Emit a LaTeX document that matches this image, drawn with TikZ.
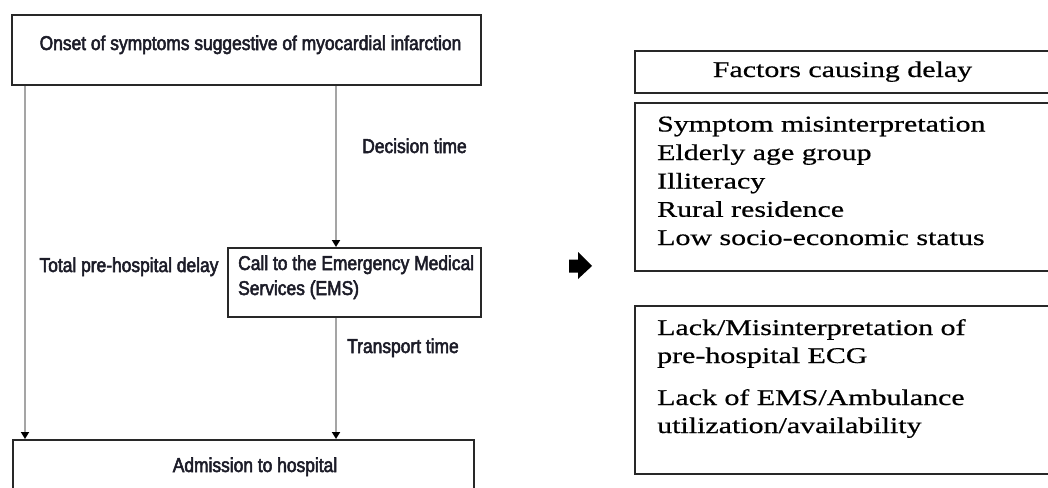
\documentclass[tikz,border=0pt]{standalone}
\usepackage{fontspec}
\usetikzlibrary{arrows.meta}
\newfontfamily\lsans[FakeStretch=0.87,FakeBold=2.6]{Liberation Sans}
\newfontfamily\rserif[FakeStretch=1.33,FakeBold=0.6]{Liberation Serif}
\definecolor{linegray}{RGB}{165,165,165}
\definecolor{boxline}{RGB}{40,40,40}
\definecolor{inkc}{RGB}{28,28,40}
\begin{document}
\begin{tikzpicture}[x=1pt,y=-1pt,
  box/.style={draw=boxline, line width=2pt, inner sep=0pt, anchor=north west},
  lt/.style={font=\lsans\fontsize{20}{24}\selectfont, text=inkc, inner sep=0pt, anchor=base},
  ltl/.style={lt, anchor=base west},
  rt/.style={font=\rserif\fontsize{22.5}{28}\selectfont, text=black, inner sep=0pt, anchor=base west},
  flow/.style={draw=linegray, line width=1.8pt, -{Triangle[length=7pt,width=8pt,color=black]}}]
\path[use as bounding box] (0,0) rectangle (1048,487);
\clip (0,0) rectangle (1048,487);

% left flow boxes
\node[box, minimum width=469pt, minimum height=70pt] (top) at (11,14) {};
\node[box, minimum width=253pt, minimum height=69pt] (call) at (227,247) {};
\node[box, minimum width=461pt, minimum height=70pt] (adm) at (12,439) {};

\node[lt] (tonset) at (250.5,50) {Onset of symptoms suggestive of myocardial infarction};
\node[ltl] (tcall1) at (238,270) {Call to the Emergency Medical};
\node[ltl] (tcall2) at (238,295) {Services (EMS)};
\node[lt] (tadm) at (255,472) {Admission to hospital};
\node[lt] (tdec) at (414.5,153) {Decision time};
\node[lt] (ttot) at (129,272) {Total pre-hospital delay};
\node[lt] (ttra) at (403,353) {Transport time};

% connectors
\coordinate (dl) at ([xshift=14pt]top.south west);
\coordinate (dr) at ([xshift=325pt]top.south west);
\draw[flow] (dl) -- (dl |- adm.north);
\draw[flow] (dr) -- (dr |- call.north);
\draw[flow] (call.south -| dr) -- (dr |- adm.north);

% block arrow
\fill[black] (569,259.5) -- (578,259.5) -- (578,252) -- (592,266) -- (578,279) -- (578,272.5) -- (569,272.5) -- cycle;

% right boxes
\node[box, minimum width=430pt, minimum height=42pt] (fac) at (634,50) {};
\node[box, minimum width=430pt, minimum height=168pt] (f1) at (634,102) {};
\node[box, minimum width=430pt, minimum height=168pt] (f2) at (634,305) {};

\node[rt, anchor=base] (tfac) at (842.5,77) {Factors causing delay};
\node[rt] (a1) at (657,131.5) {Symptom misinterpretation};
\node[rt] (a2) at (657,160) {Elderly age group};
\node[rt] (a3) at (657,188.5) {Illiteracy};
\node[rt] (a4) at (657,216.8) {Rural residence};
\node[rt] (a5) at (657,245) {Low socio-economic status};
\node[rt] (b1) at (657,335) {Lack/Misinterpretation of};
\node[rt] (b2) at (657,363) {pre-hospital ECG};
\node[rt] (b3) at (657,405) {Lack of EMS/Ambulance};
\node[rt] (b4) at (657,433) {utilization/availability};
\end{tikzpicture}
\end{document}
